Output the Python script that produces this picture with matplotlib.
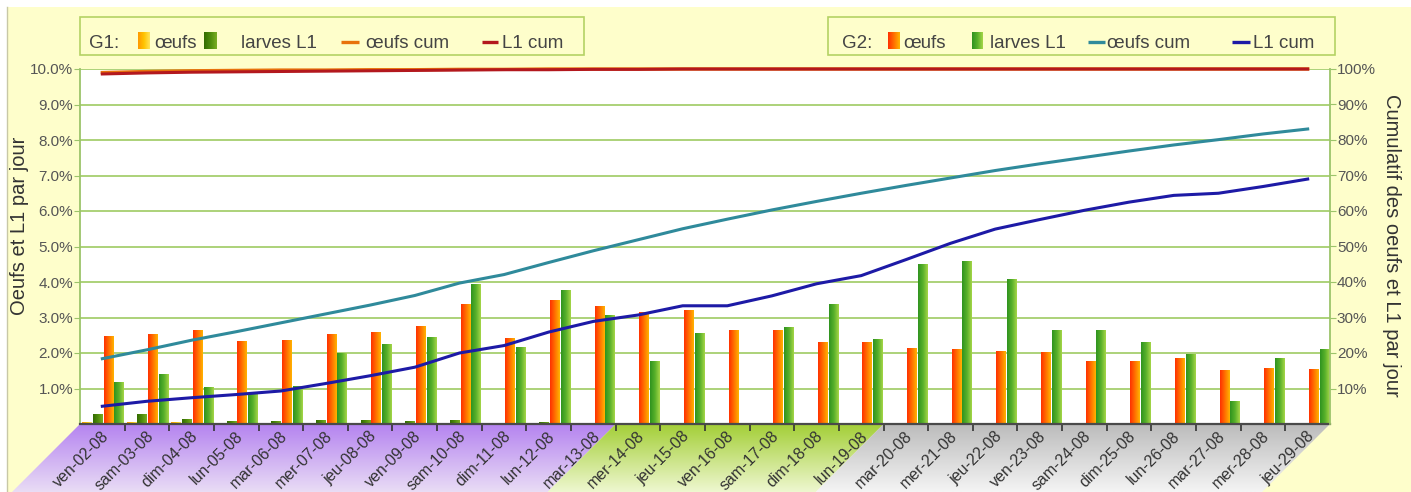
import numpy as np
import matplotlib
matplotlib.use('Agg')
import matplotlib.pyplot as plt
from matplotlib.patches import Polygon, Rectangle
from matplotlib.colors import LinearSegmentedColormap
import matplotlib.transforms as mtransforms

plt.rcParams['font.family'] = ['Liberation Sans', 'DejaVu Sans']

# ---- data ----
days = ['ven-02-08', 'sam-03-08', 'dim-04-08', 'lun-05-08', 'mar-06-08', 'mer-07-08',
        'jeu-08-08', 'ven-09-08', 'sam-10-08', 'dim-11-08', 'lun-12-08', 'mar-13-08',
        'mer-14-08', 'jeu-15-08', 'ven-16-08', 'sam-17-08', 'dim-18-08', 'lun-19-08',
        'mar-20-08', 'mer-21-08', 'jeu-22-08', 'ven-23-08', 'sam-24-08', 'dim-25-08',
        'lun-26-08', 'mar-27-08', 'mer-28-08', 'jeu-29-08']

# daily values (% per day, left axis)
g1_oeufs = [0.05, 0.04, 0.03, 0.02, 0.02, 0.01, 0.01, 0.01, 0.0, 0.0, 0.0, 0.0, 0.0, 0.0,
            0.0, 0.0, 0.0, 0.0, 0.0, 0.0, 0.0, 0.0, 0.0, 0.0, 0.0, 0.0, 0.0, 0.0]
g1_larves = [0.28, 0.28, 0.13, 0.07, 0.08, 0.11, 0.09, 0.08, 0.09, 0.02, 0.04, 0.02, 0.0, 0.01,
             0.0, 0.0, 0.0, 0.0, 0.0, 0.0, 0.0, 0.0, 0.0, 0.0, 0.0, 0.0, 0.0, 0.0]
g2_oeufs = [2.47, 2.53, 2.64, 2.32, 2.35, 2.53, 2.57, 2.74, 3.38, 2.40, 3.48, 3.32, 3.15, 3.20,
            2.64, 2.64, 2.30, 2.30, 2.13, 2.11, 2.04, 2.00, 1.77, 1.76, 1.84, 1.51, 1.57, 1.54]
g2_larves = [1.17, 1.40, 1.02, 0.85, 1.07, 1.98, 2.25, 2.44, 3.93, 2.16, 3.77, 3.07, 1.77, 2.56,
             0.0, 2.73, 3.37, 2.39, 4.48, 4.57, 4.07, 2.64, 2.64, 2.29, 1.97, 0.63, 1.84, 2.11]

# cumulative values (%, right axis)
g1_oeufs_cum = [99.0, 99.3, 99.5, 99.6, 99.7, 99.7, 99.8, 99.8, 99.9, 99.9, 100, 100, 100, 100,
                100, 100, 100, 100, 100, 100, 100, 100, 100, 100, 100, 100, 100, 100]
g1_l1_cum = [98.6, 98.9, 99.1, 99.2, 99.3, 99.4, 99.5, 99.6, 99.7, 99.8, 99.8, 99.9, 99.9, 100,
             100, 100, 100, 100, 100, 100, 100, 100, 100, 100, 100, 100, 100, 100]
g2_oeufs_cum = [18.4, 20.9, 23.6, 26.0, 28.5, 31.0, 33.5, 36.2, 39.7, 42.1, 45.5, 48.8, 51.9, 55.0,
                57.7, 60.3, 62.7, 65.0, 67.2, 69.3, 71.4, 73.3, 75.1, 76.9, 78.6, 80.1, 81.7, 83.1]
g2_l1_cum = [5.0, 6.4, 7.4, 8.3, 9.3, 11.4, 13.6, 16.0, 20.0, 22.1, 25.9, 28.9, 30.7, 33.3,
             33.3, 36.1, 39.5, 41.8, 46.3, 50.9, 54.9, 57.6, 60.2, 62.5, 64.4, 65.0, 66.9, 69.0]

# periods under the x axis (first day index, last+1, colours top -> bottom)
period_bounds = [0, 12, 18, 28]
period_colors = [('#b584f0', '#e9dcf5'), ('#a4cf38', '#eef7cf'), ('#bcbcbc', '#f4f4f4')]

W, H = 1411, 492
fig = plt.figure(figsize=(W / 100, H / 100), dpi=100)
fig.patch.set_facecolor('white')

# background layer in pixel coordinates
bg = fig.add_axes([0, 0, 1, 1], zorder=0)
bg.set_xlim(0, W)
bg.set_ylim(0, H)
bg.axis('off')
bg.add_patch(Rectangle((7, 0), W - 7, H - 7, facecolor='#fefecb', edgecolor='none', zorder=0.5))
bg.plot([7, 7], [0, H - 7], color='#c8c8a6', lw=1, zorder=0.6)

ax = fig.add_axes([80 / W, 1 - 424 / H, 1250 / W, 355 / H], zorder=2)
ax.set_facecolor('white')
x = np.arange(len(days))
ax.set_xlim(-0.5, len(days) - 0.5)
ax.set_ylim(0, 10)

width = 0.215
offsets = [-0.345, -0.105, 0.135, 0.375]
series = [
    (g1_oeufs, ['#ff9800', '#ffc400', '#ffe45a']),
    (g1_larves, ['#336b00', '#4f8c0c', '#7aae22']),
    (g2_oeufs, ['#ff3000', '#ff7000', '#ffb400']),
    (g2_larves, ['#2f9320', '#58b02a', '#a6d648']),
]
img = np.linspace(0, 1, 64).reshape(1, -1)
for (vals, cols), off in zip(series, offsets):
    cmap = LinearSegmentedColormap.from_list('g', cols)
    bars = ax.bar(x + off, vals, width, color='none', edgecolor='none', zorder=2)
    for b in bars:
        h = b.get_height()
        if h <= 0:
            continue
        x0 = b.get_x()
        ax.imshow(img, cmap=cmap, extent=(x0, x0 + b.get_width(), 0, h),
                  aspect='auto', origin='lower', interpolation='bilinear', zorder=2)
ax.set_xlim(-0.5, len(days) - 0.5)
ax.set_ylim(0, 10)

ax.set_axisbelow(True)
ax.yaxis.grid(True, color='#a6cf6e', lw=1.3)
ax.set_yticks(np.arange(1, 11))
ax.set_yticklabels([f'{v:.1f}%' for v in range(1, 11)])
ax.tick_params(axis='y', length=4, color='#9cc46a', labelcolor='#555555', labelsize=11, pad=1)
for s in ['top', 'right']:
    ax.spines[s].set_visible(False)
ax.spines['left'].set_color('#9cc46a')
ax.spines['left'].set_linewidth(1.3)
ax.spines['bottom'].set_color('#4a4a4a')
ax.spines['bottom'].set_linewidth(1.6)

ax.set_xticks(x)
ax.set_xticklabels(days, rotation=45, ha='right', va='center', rotation_mode='anchor',
                   fontsize=11.5, color='#333333')
ax.set_xticks(x[:-1] + 0.5, minor=True)
ax.tick_params(axis='x', which='major', length=0, pad=7)
ax.tick_params(axis='x', which='minor', length=5, color='#333333', width=1.2)
shift = mtransforms.ScaledTranslation(3 / 72, 0, fig.dpi_scale_trans)
for lab in ax.get_xticklabels():
    lab.set_transform(lab.get_transform() + shift)

# right axis: cumulative lines
ax2 = ax.twinx()
ax2.set_zorder(3)
ax2.patch.set_visible(False)
ax2.set_ylim(0, 100)
ax2.plot(x, g2_oeufs_cum, color='#2f8a9b', lw=2.2)
ax2.plot(x, g2_l1_cum, color='#1d1aa6', lw=2.2)
ax2.plot(x, g1_oeufs_cum, color='#e8720c', lw=2.4, clip_on=False)
ax2.plot(x, g1_l1_cum, color='#b3181e', lw=2.2, clip_on=False)
ax2.set_yticks(np.arange(10, 101, 10))
ax2.set_yticklabels([f'{v}%' for v in range(10, 101, 10)])
ax2.tick_params(axis='y', length=4, color='#9cc46a', labelcolor='#555555', labelsize=11, pad=1)
for s in ['top', 'left', 'bottom']:
    ax2.spines[s].set_visible(False)
ax2.spines['right'].set_color('#9cc46a')
ax2.spines['right'].set_linewidth(1.3)

# coloured skewed band under the x axis
ytop = ax.transAxes.transform((0, 0))[1]
vgrad = np.linspace(0, 1, 64).reshape(-1, 1)
for k, (c_top, c_bot) in enumerate(period_colors):
    xa = ax.transData.transform((period_bounds[k] - 0.5, 0))[0]
    xb = ax.transData.transform((period_bounds[k + 1] - 0.5, 0))[0]
    poly = Polygon([(xa, ytop), (xb, ytop), (xb - ytop, 0), (xa - ytop, 0)],
                   closed=True, facecolor='none', edgecolor='none', zorder=1)
    bg.add_patch(poly)
    cm = LinearSegmentedColormap.from_list('p', [c_bot, c_top])
    im = bg.imshow(vgrad, cmap=cm, extent=(xa - ytop, xb, 0, ytop), origin='lower',
                   aspect='auto', interpolation='bilinear', zorder=1)
    im.set_clip_path(poly)
bg.set_xlim(0, W)
bg.set_ylim(0, H)

# axis titles
fig.text(20 / W, 1 - 226 / H, 'Oeufs et L1 par jour', rotation=90, ha='center', va='center',
         fontsize=14.5, color='#333333')
fig.text(1391 / W, 1 - 245 / H, 'Cumulatif des oeufs et L1 par jour', rotation=270,
         ha='center', va='center', fontsize=14.5, color='#333333')


# legends drawn in pixel coordinates
def legend_box(x0, x1, items):
    bg.add_patch(Rectangle((x0, H - 55), x1 - x0, 38, facecolor='#fefecb',
                           edgecolor='#b4d264', lw=1.2, zorder=2))
    for kind, a, b, val in items:
        if kind == 'text':
            bg.text(a, H - 48, val, fontsize=13.5, color='#444444', ha='left', va='baseline',
                    zorder=4)
        elif kind == 'patch':
            cm = LinearSegmentedColormap.from_list('l', val)
            bg.imshow(img, cmap=cm, extent=(a, b, H - 49, H - 32), aspect='auto',
                      interpolation='bilinear', zorder=3)
        else:
            bg.plot([a, b], [H - 42, H - 42], color=val, lw=2.4, solid_capstyle='butt',
                    zorder=3)


legend_box(80, 584, [
    ('text', 89, None, 'G1:'),
    ('patch', 138, 150, ['#ff9800', '#ffc400', '#ffe45a']),
    ('text', 154, None, 'œufs'),
    ('patch', 204, 217, ['#336b00', '#4f8c0c', '#7aae22']),
    ('text', 241, None, 'larves L1'),
    ('line', 341, 359, '#e8720c'),
    ('text', 366, None, 'œufs cum'),
    ('line', 482, 498, '#b3181e'),
    ('text', 502, None, 'L1 cum'),
])
legend_box(828, 1335, [
    ('text', 842, None, 'G2:'),
    ('patch', 888, 900, ['#ff3000', '#ff7000', '#ffb400']),
    ('text', 903, None, 'œufs'),
    ('patch', 972, 983, ['#2f9320', '#58b02a', '#a6d648']),
    ('text', 990, None, 'larves L1'),
    ('line', 1088, 1105, '#2f8a9b'),
    ('text', 1107, None, 'œufs cum'),
    ('line', 1232, 1250, '#1d1aa6'),
    ('text', 1253, None, 'L1 cum'),
])
bg.set_xlim(0, W)
bg.set_ylim(0, H)

fig.savefig('out.png', dpi=100, facecolor=fig.get_facecolor())
plt.close(fig)
